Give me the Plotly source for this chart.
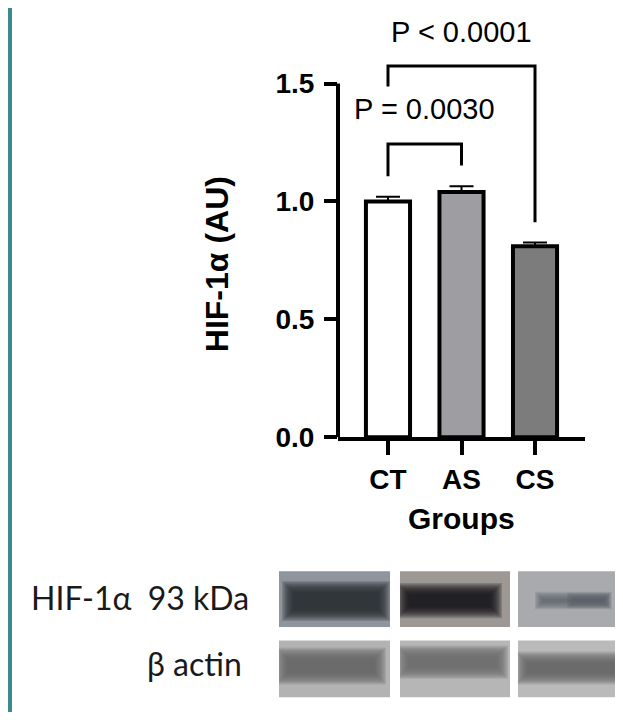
import plotly.graph_objects as go

# ---------------- data ----------------
groups = ["CT", "AS", "CS"]
means = [1.00, 1.04, 0.81]
sem = [0.02, 0.025, 0.016]
y_ticks = [0.0, 0.5, 1.0, 1.5]
y_ticktext = ["0.0", "0.5", "1.0", "1.5"]

# significance brackets: (group a, group b, top, leg end a, leg end b, label, label y)
brackets = [
    ("CT", "AS", 1.244, 1.107, 1.153, "P = 0.0030", 1.392),
    ("CT", "CS", 1.575, 1.488, 0.912, "P < 0.0001", 1.72),
]

blot_rows = ["HIF-1α\u00a0 93 kDa", "β actin"]

# ---------------- layout constants ----------------
W, H = 623, 720
bar_fill = ["#ffffff", "#9e9ea2", "#7c7c7c"]


def px(x):
    return x / W


def py(y):
    return 1 - y / H


fig = go.Figure()
fig.add_trace(go.Bar(
    x=groups, y=means, width=0.6,
    marker=dict(color=bar_fill, line=dict(color="black", width=4)),
    error_y=dict(type="data", symmetric=False, array=sem, arrayminus=[0] * len(sem),
                 thickness=2, width=12, color="black"),
    showlegend=False,
))

tickfont = dict(family="Liberation Sans, Arial", size=28, color="black", weight="bold")

fig.update_layout(
    width=W, height=H,
    margin=dict(l=0, r=0, t=0, b=0),
    paper_bgcolor="white", plot_bgcolor="white",
    xaxis=dict(
        domain=[px(330), px(577)], range=[-0.68, 2.68],
        showline=True, linewidth=4, linecolor="black",
        ticks="outside", ticklen=14, tickwidth=4, tickcolor="black",
        tickfont=tickfont, showgrid=False, zeroline=False, fixedrange=True,
    ),
    yaxis=dict(
        domain=[py(439), py(17)], range=[0, 1.75],
        showline=False, tickvals=y_ticks, ticktext=y_ticktext,
        ticks="outside", ticklen=13, tickwidth=4, tickcolor="black",
        tickfont=tickfont, showgrid=False, zeroline=False, fixedrange=True,
        ticklabelstandoff=4,
    ),
)

shapes = []
annotations = []

# y axis line only up to 1.5
shapes.append(dict(type="line", xref="x domain", yref="y", x0=0, x1=0,
                   y0=0, y1=y_ticks[-1], line=dict(color="black", width=4)))

# brackets
for a, b, top, ea, eb, label, ly in brackets:
    ia, ib = groups.index(a), groups.index(b)
    shapes.append(dict(type="path", xref="x", yref="y",
                       path=f"M {ia},{ea} L {ia},{top} L {ib},{top} L {ib},{eb}",
                       line=dict(color="black", width=3)))
    annotations.append(dict(x=(ia + ib) / 2, y=ly, xref="x", yref="y", text=label,
                            showarrow=False, xanchor="center", yanchor="middle",
                            font=dict(family="Liberation Sans, Arial", size=29, color="black")))

# axis titles
annotations.append(dict(x=1, y=py(522), xref="x", yref="paper", text="Groups", showarrow=False,
                        xanchor="center", yanchor="middle",
                        font=dict(family="Liberation Sans, Arial", size=30, color="black", weight="bold")))
annotations.append(dict(x=px(209), y=py(262), xref="paper", yref="paper", text="HIF-1α (AU)",
                        showarrow=False, textangle=-90, xanchor="center", yanchor="middle",
                        font=dict(family="Liberation Sans, Arial", size=32, color="black", weight="bold")))

# teal border on the left
shapes.append(dict(type="rect", xref="paper", yref="paper", x0=0, x1=px(4), y0=0, y1=1,
                   fillcolor="#3a8a8e", line=dict(width=0), layer="below"))

# ---------------- western blot panel ----------------
lane_x = [(271, 382), (392, 502), (510, 618)]
row_y = [(576, 633), (647, 705)]
box_bg = [["#8f959c", "#9d9893", "#a9aaae"], ["#b3b3b3", "#b6b6b6", "#bababa"]]
band_col = [["#262c34", "#141417", "#5a6068"], ["#666666", "#686868", "#646464"]]
band_box = [
    [[(277, 382, 586, 627)], [(392, 494, 588, 624)], [(530, 604, 597, 615), (562, 602, 598, 614)]],
    [[(271, 378, 654, 692)], [(392, 500, 652, 686)], [(511, 618, 658, 692)]],
]
label_pos = [(243, 603), (236, 670)]

for r in range(2):
    y0, y1 = row_y[r]
    for l in range(3):
        x0, x1 = lane_x[l]
        shapes.append(dict(type="rect", xref="paper", yref="paper",
                           x0=px(x0), x1=px(x1), y0=py(y1), y1=py(y0),
                           fillcolor=box_bg[r][l], line=dict(width=0)))
        for bx0, bx1, by0, by1 in band_box[r][l]:
            for k in range(10):
                ins = k * 1.3
                if bx1 - bx0 - 2 * ins <= 0 or by1 - by0 - 2 * ins <= 0:
                    break
                shapes.append(dict(type="rect", xref="paper", yref="paper",
                                   x0=px(max(bx0 + ins - 3, x0)), x1=px(min(bx1 - ins, x1)),
                                   y0=py(by1 - ins), y1=py(by0 + ins),
                                   fillcolor=band_col[r][l], opacity=0.2,
                                   line=dict(width=0)))
    lx, ly = label_pos[r]
    annotations.append(dict(x=px(lx), y=py(ly), xref="paper", yref="paper", text=blot_rows[r],
                            showarrow=False, xanchor="right", yanchor="middle",
                            font=dict(family="Lato, Noto Sans", size=32, color="#1a1a1a")))

fig.update_layout(shapes=shapes, annotations=annotations)
fig.write_html("out.html")
